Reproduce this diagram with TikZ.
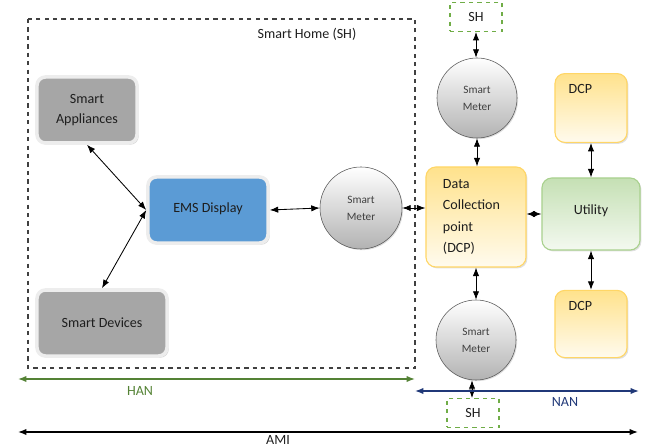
\documentclass[tikz,border=0pt]{standalone}
\usepackage{fontspec}
\setmainfont{Carlito}
\usetikzlibrary{arrows.meta,calc,positioning,shadows}

\definecolor{devgray}{RGB}{166,166,166}
\definecolor{emsblue}{RGB}{91,155,213}
\definecolor{dcpedge}{RGB}{255,214,102}
\definecolor{dcptop}{RGB}{255,226,140}
\definecolor{utedge}{RGB}{169,209,142}
\definecolor{uttop}{RGB}{197,224,180}
\definecolor{shgreen}{RGB}{112,173,71}
\definecolor{hangreen}{RGB}{84,130,53}
\definecolor{nanblue}{RGB}{32,56,120}
\definecolor{ink}{RGB}{30,30,30}

\tikzset{
  >={Latex[length=6pt,width=4.5pt]},
  dev/.style={rectangle, rounded corners=6pt, fill=devgray, draw=white!93!black,
    line width=2.5pt, align=center, text=ink, font=\fontsize{10}{14}\selectfont,
    drop shadow={opacity=0.35, shadow xshift=1.2pt, shadow yshift=-1.2pt}},
  emsbox/.style={dev, fill=emsblue},
  meter/.style={circle, draw=gray!70!black, thin, top color=white, bottom color=gray!60,
    minimum size=2.0cm, inner sep=0pt, align=center, text=ink!85,
    font=\fontsize{8}{12}\selectfont,
    drop shadow={opacity=0.25, shadow xshift=0.8pt, shadow yshift=-0.8pt}},
  dcpbox/.style={rectangle, rounded corners=7pt, draw=dcpedge, thick, text=ink,
    top color=dcptop, bottom color=dcptop!15, font=\fontsize{10}{15}\selectfont,
    drop shadow={opacity=0.25, shadow xshift=1pt, shadow yshift=-1pt}},
  utbox/.style={dcpbox, draw=utedge, top color=uttop, bottom color=uttop!20},
  shbox/.style={rectangle, draw=shgreen, dashed, thick, text=ink,
    font=\fontsize{10}{12}\selectfont, minimum width=1.3cm, minimum height=0.72cm},
  link/.style={<->, semithick},
  span/.style={<->, line width=0.9pt}
}

\begin{document}
\begin{tikzpicture}[x=0.025cm, y=-0.025cm]
\useasboundingbox (0,0) rectangle (651,446);

\draw [dashed, thick, black!75] (28,19) rectangle (415,368);
\node[text=ink, font=\fontsize{10}{12}\selectfont] (shtitle) at (307,34) {Smart Home (SH)};

\node[dev, minimum width=2.5cm, minimum height=1.65cm] (sa) at (87,110) {Smart\\Appliances};
\node[dev, minimum width=3.25cm, minimum height=1.65cm] (sd) at (102,323) {Smart Devices};
\node[emsbox, minimum width=3.0cm, minimum height=1.65cm] (ems) at (208,210)
  {\raisebox{4pt}{EMS Display}};

\node[meter, minimum size=2.05cm] (smh) at (361,208) {Smart\\Meter};
\node[meter] (smt) at (477,98) {Smart\\Meter};
\node[meter] (smb) at (476,340) {Smart\\Meter};

\node[dcpbox, minimum width=2.5cm, minimum height=2.5cm, text width=1.65cm, align=left]
  (dcp) at (476,217) {Data\\Collection\\point\\(DCP)};
\node[utbox, minimum width=2.45cm, minimum height=1.8cm] (ut) at (591,214)
  {\raisebox{6pt}{Utility}};
\node[dcpbox, minimum width=1.8cm, minimum height=1.72cm,
  label={[anchor=north west, inner sep=0pt, xshift=0.35cm, yshift=-0.28cm,
  text=ink, font=\fontsize{10}{12}\selectfont]north west:DCP}] (dcpt) at (591,108) {};
\node[dcpbox, minimum width=1.8cm, minimum height=1.68cm,
  label={[anchor=north west, inner sep=0pt, xshift=0.35cm, yshift=-0.28cm,
  text=ink, font=\fontsize{10}{12}\selectfont]north west:DCP}] (dcpb) at (591,324) {};

\node[shbox] (sht) at (476,17) {SH};
\node[shbox] (shb) at (473,413) {SH};

\draw [link] (sa.south) to (ems.west);
\draw [link] (sd.north) to (ems.west);
\draw [link] (ems.east) to (smh.west);
\draw [link] (smh.east) to (smh.east -| dcp.west);
\draw [link] (ut.west -| dcp.east) to (ut.west);
\draw [link] (sht.south) to (sht.south |- smt.north);
\draw [link] (smt.south) to (smt.south |- dcp.north);
\draw [link] (dcp.south) to (dcp.south |- smb.north);
\draw [link] ($(smb.south)+(-4,0)$) to ($(smb.south |- shb.north)+(-4,0)$);
\draw [link] (dcpt.south) to (dcpt.south |- ut.north);
\draw [link] (ut.south) to (ut.south |- dcpb.north);

\coordinate (hanl) at (18,379);
\coordinate (hanr) at (415,379);
\coordinate (nanl) at (415,391);
\coordinate (nanr) at (639,391);
\coordinate (amil) at (18,432);
\coordinate (amir) at (638,432);

\draw [span, hangreen] (hanl) to (hanr);
\draw [span, nanblue] (nanl) to (nanr);
\draw [span, black] (amil) to (amir);

\node[text=hangreen, font=\fontsize{10}{12}\selectfont] (han) at (140,391) {HAN};
\node[text=nanblue, font=\fontsize{10}{12}\selectfont] (nan) at (565,402) {NAN};
\node[text=ink, font=\fontsize{10}{12}\selectfont] (ami) at (278,440) {AMI};
\end{tikzpicture}
\end{document}
